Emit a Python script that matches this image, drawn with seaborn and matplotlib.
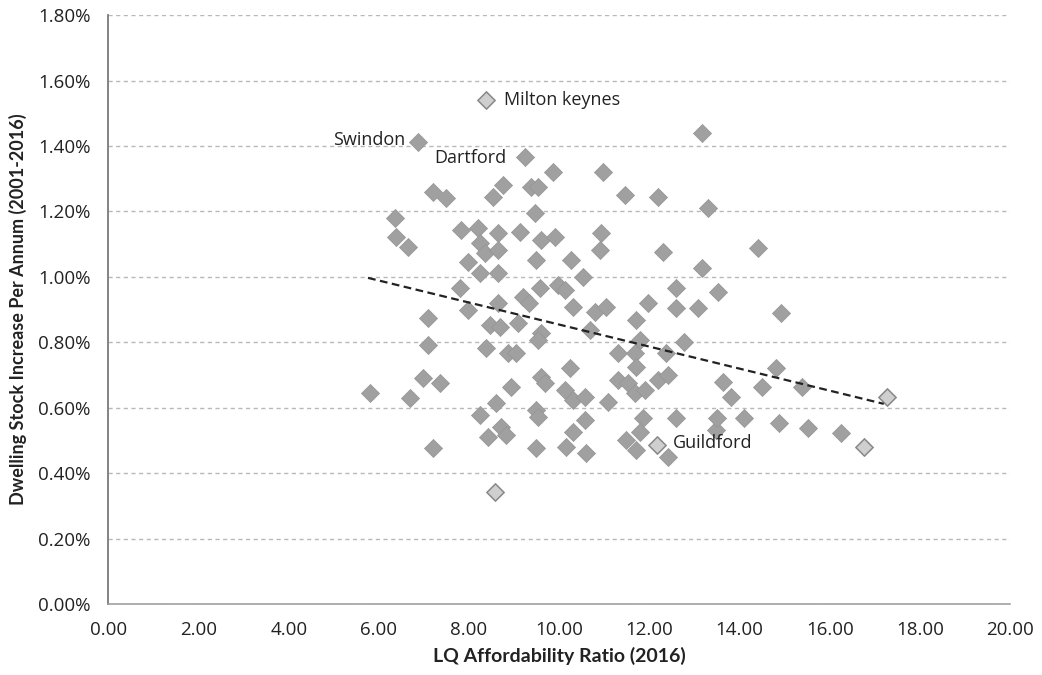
import matplotlib
matplotlib.use("Agg")
import matplotlib.pyplot as plt
import seaborn as sns
import pandas as pd
import numpy as np
from matplotlib.ticker import FuncFormatter

# LQ affordability ratio (2016) and dwelling stock increase per annum (%)
afford = [5.80, 6.36, 6.38, 6.64, 6.69, 6.87, 6.98, 7.09, 7.09, 7.20, 7.20, 7.36, 7.49,
          7.80, 7.82, 7.98, 7.98, 8.20, 8.24, 8.36, 8.24, 8.24, 8.38, 8.38, 8.42, 8.47,
          8.53, 8.58, 8.64, 8.60, 8.76, 8.64, 8.64, 8.64, 8.69, 8.71, 8.82, 8.93, 8.87,
          9.04, 9.09, 9.13, 9.24, 9.20, 9.33, 9.38, 9.53, 9.47, 9.49, 9.49, 9.53, 9.49,
          9.60, 9.69, 9.58, 9.60, 9.53, 9.60, 9.91, 9.87, 9.98, 10.13, 10.13, 10.16,
          10.24, 10.31, 10.27, 10.31, 10.31, 10.58, 10.58, 10.53, 10.60, 10.69, 10.80,
          10.93, 10.91, 10.98, 11.04, 11.09, 11.31, 11.31, 11.53, 11.47, 11.49, 11.69,
          11.71, 11.71, 11.69, 11.91, 11.98, 11.80, 11.87, 11.80, 11.71, 12.20, 12.42,
          12.16, 12.20, 12.31, 12.36, 12.42, 12.58, 12.60, 12.60, 12.76, 13.09, 13.16,
          13.16, 13.31, 13.53, 13.64, 13.82, 13.47, 13.49, 14.09, 14.42, 14.49, 14.82,
          14.87, 14.93, 15.38, 15.53, 16.24, 16.76, 17.27]
growth = [0.645, 1.180, 1.122, 1.092, 0.630, 1.413, 0.691, 0.875, 0.792, 0.477, 1.260,
          0.676, 1.242, 0.966, 1.144, 1.046, 0.899, 1.150, 1.104, 1.073, 1.012, 0.578,
          0.783, 1.541, 0.511, 0.853, 1.245, 0.343, 1.135, 0.615, 1.281, 1.083, 1.012,
          0.920, 0.847, 0.541, 0.517, 0.664, 0.768, 0.768, 0.859, 1.138, 1.367, 0.939,
          0.920, 1.275, 1.275, 1.196, 1.052, 0.593, 0.572, 0.477, 0.694, 0.676, 0.966,
          0.829, 0.807, 1.113, 1.122, 1.321, 0.976, 0.960, 0.654, 0.480, 0.722, 0.624,
          1.052, 0.526, 0.908, 0.633, 0.563, 1.000, 0.462, 0.838, 0.893, 1.135, 1.083,
          1.321, 0.908, 0.618, 0.768, 0.685, 0.676, 1.251, 0.502, 0.768, 0.725, 0.869,
          0.645, 0.654, 0.920, 0.807, 0.569, 0.526, 0.471, 0.685, 0.700, 0.486, 1.245,
          1.076, 0.768, 0.450, 0.905, 0.966, 0.569, 0.801, 0.905, 1.028, 1.440, 1.211,
          0.954, 0.679, 0.633, 0.532, 0.569, 0.569, 1.089, 0.664, 0.722, 0.554, 0.890,
          0.664, 0.538, 0.523, 0.480, 0.633]
# highlighted (hatched, lighter) markers
light_x = [8.38, 8.58, 12.16, 16.76, 17.27]
light_y = [1.541, 0.343, 0.486, 0.480, 0.633]

# named places
label_names = ["Milton keynes", "Swindon", "Dartford", "Guildford"]
label_x = [8.38, 6.87, 9.24, 12.42]
label_y = [1.541, 1.413, 1.367, 0.480]

# linear trend line end points
trend_x = [5.76, 17.20]
trend_y = [0.997, 0.612]

x_ticks = [0, 2, 4, 6, 8, 10, 12, 14, 16, 18, 20]
y_ticks = [0.0, 0.2, 0.4, 0.6, 0.8, 1.0, 1.2, 1.4, 1.6, 1.8]

sns.set_theme(style="white")
plt.rcParams["font.family"] = ["Open Sans", "DejaVu Sans"]

df = pd.DataFrame({"afford": afford, "growth": growth})
dfl = pd.DataFrame({"afford": light_x, "growth": light_y})
dft = pd.DataFrame({"x": trend_x, "y": trend_y})

fig = plt.figure(figsize=(10.42, 6.75), dpi=100)
ax = fig.add_axes([0.1040, 0.105, 0.8653, 0.8726])

for yv in y_ticks:
    ax.axhline(yv, color="#b8b8b8", lw=1.0, ls=(0, (3, 2.5)), zorder=0)

sns.scatterplot(data=df, x="afford", y="growth", marker="D", s=85,
                color="#a0a0a0", edgecolor="#959595", linewidth=0.5,
                ax=ax, zorder=3, legend=False)
sns.scatterplot(data=dfl, x="afford", y="growth", marker="D", s=75,
                color="#cfcfcf", edgecolor="#8a8a8a", linewidth=1.0,
                ax=ax, zorder=4, legend=False)
sns.lineplot(data=dft, x="x", y="y", color="#222222", lw=1.6,
             ls=(0, (3.5, 2)), ax=ax, zorder=5)

offsets = {"Milton keynes": (13, 0, "left"), "Swindon": (-9, 1, "right"),
           "Dartford": (-13, -0.5, "right"), "Guildford": (3, 3, "left")}
for n, xv, yv in zip(label_names, label_x, label_y):
    dx, dy, ha = offsets[n]
    ax.annotate(n, (xv, yv), xytext=(dx, dy), textcoords="offset points",
                ha=ha, va="center", fontsize=13, color="#222222", zorder=6)

ax.set_xlim(0, 20)
ax.set_ylim(0, 1.8)
ax.set_xticks(x_ticks)
ax.set_yticks(y_ticks)
ax.xaxis.set_major_formatter(FuncFormatter(lambda v, p: f"{v:.2f}"))
ax.yaxis.set_major_formatter(FuncFormatter(lambda v, p: f"{v:.2f}%"))
ax.tick_params(axis="both", labelsize=13.5, colors="#222222", length=4,
               width=1, direction="out", pad=5)
ax.tick_params(axis="x", pad=8, color="#888888")
ax.tick_params(axis="y", pad=9, color="#888888")

for s in ["top", "right"]:
    ax.spines[s].set_visible(False)
ax.spines["left"].set_color("#7a7a7a")
ax.spines["bottom"].set_color("#9a9a9a")
ax.spines["left"].set_linewidth(1.3)
ax.spines["bottom"].set_linewidth(1.1)

ax.set_xlabel("LQ Affordability Ratio (2016)", fontsize=14, fontweight="bold",
              family=["Lato", "DejaVu Sans"], color="#222222", labelpad=6)
ax.set_ylabel("Dwelling Stock Increase Per Annum (2001-2016)", fontsize=13,
              fontweight="bold", family=["Lato", "DejaVu Sans"], color="#222222",
              labelpad=8)

fig.savefig("out.png", dpi=100, facecolor="white")
